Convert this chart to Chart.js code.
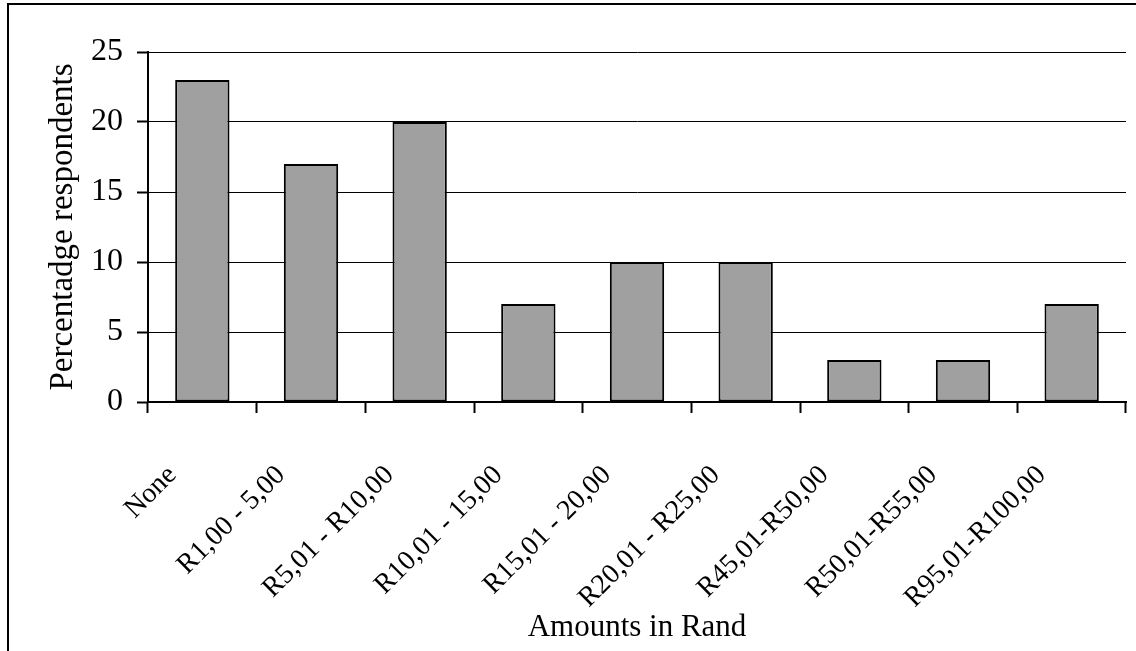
<!DOCTYPE html>
<html>
<head>
<meta charset="utf-8">
<script src="https://cdn.jsdelivr.net/npm/chart.js@4.4.1/dist/chart.umd.min.js"></script>
<style>
  html, body { margin: 0; padding: 0; background: #fff; }
  #wrap { position: relative; width: 1136px; height: 651px; overflow: hidden; }
  #frame { position: absolute; left: 7px; top: 3px; width: 1200px; height: 700px;
           border-left: 2px solid #000; border-top: 2px solid #000; }
  #c { position: absolute; left: 0; top: 0; }
</style>
</head>
<body>
<div id="wrap">
  <div id="frame"></div>
  <canvas id="c" width="1136" height="651"></canvas>
</div>
<script>
// Amount spent, in Rand, per category
const categories = [
  'None', 'R1,00 - 5,00', 'R5,01 - R10,00', 'R10,01 - 15,00', 'R15,01 - 20,00',
  'R20,01 - R25,00', 'R45,01-R50,00', 'R50,01-R55,00', 'R95,01-R100,00'
];
// Share of respondents (%)
const percentages = [23, 17, 20, 7, 10, 10, 3, 3, 7];
const yTicks = [0, 5, 10, 15, 20, 25];

const serif = '"Liberation Serif", "Times New Roman", serif';

new Chart(document.getElementById('c'), {
  type: 'bar',
  data: {
    labels: categories,
    datasets: [{
      data: percentages,
      backgroundColor: '#a0a0a0',
      borderColor: '#000',
      borderWidth: 2,
      borderSkipped: false,
      categoryPercentage: 1.0,
      barPercentage: 0.5
    }]
  },
  options: {
    responsive: false,
    animation: false,
    layout: { padding: { left: 0, right: 10, top: 52, bottom: 0 } },
    plugins: { legend: { display: false }, tooltip: { enabled: false } },
    scales: {
      x: {
        offset: true,
        grid: {
          offset: true,
          drawOnChartArea: false,
          drawTicks: true,
          tickLength: 11,
          tickWidth: 2,
          tickColor: '#000'
        },
        border: { display: true, color: '#000', width: 2 },
        ticks: {
          color: '#000',
          font: { family: serif, size: 28 },
          minRotation: 45,
          maxRotation: 45,
          autoSkip: false,
          padding: 46,
          labelOffset: -30
        },
        title: {
          display: true,
          text: 'Amounts in Rand',
          color: '#000',
          font: { family: serif, size: 31 },
          padding: { top: 0, bottom: 5 }
        },
        afterFit(scale) {
          scale.height = 651 - 402;
          scale.paddingLeft = 0;
          scale.paddingRight = 0;
        }
      },
      y: {
        min: 0,
        max: 25,
        afterBuildTicks(scale) { scale.ticks = yTicks.map(v => ({ value: v })); },
        grid: {
          color: '#000',
          lineWidth: 1,
          drawTicks: true,
          tickLength: 11,
          tickWidth: 2,
          tickColor: '#000'
        },
        border: { display: true, color: '#000', width: 2 },
        ticks: {
          color: '#000',
          font: { family: serif, size: 32 },
          padding: 14
        },
        title: {
          display: true,
          text: 'Percentadge respondents',
          color: '#000',
          font: { family: serif, size: 33 },
          padding: { top: 44, bottom: 0 }
        },
        afterFit(scale) { scale.width = 148; }
      }
    }
  }
});
</script>
</body>
</html>
